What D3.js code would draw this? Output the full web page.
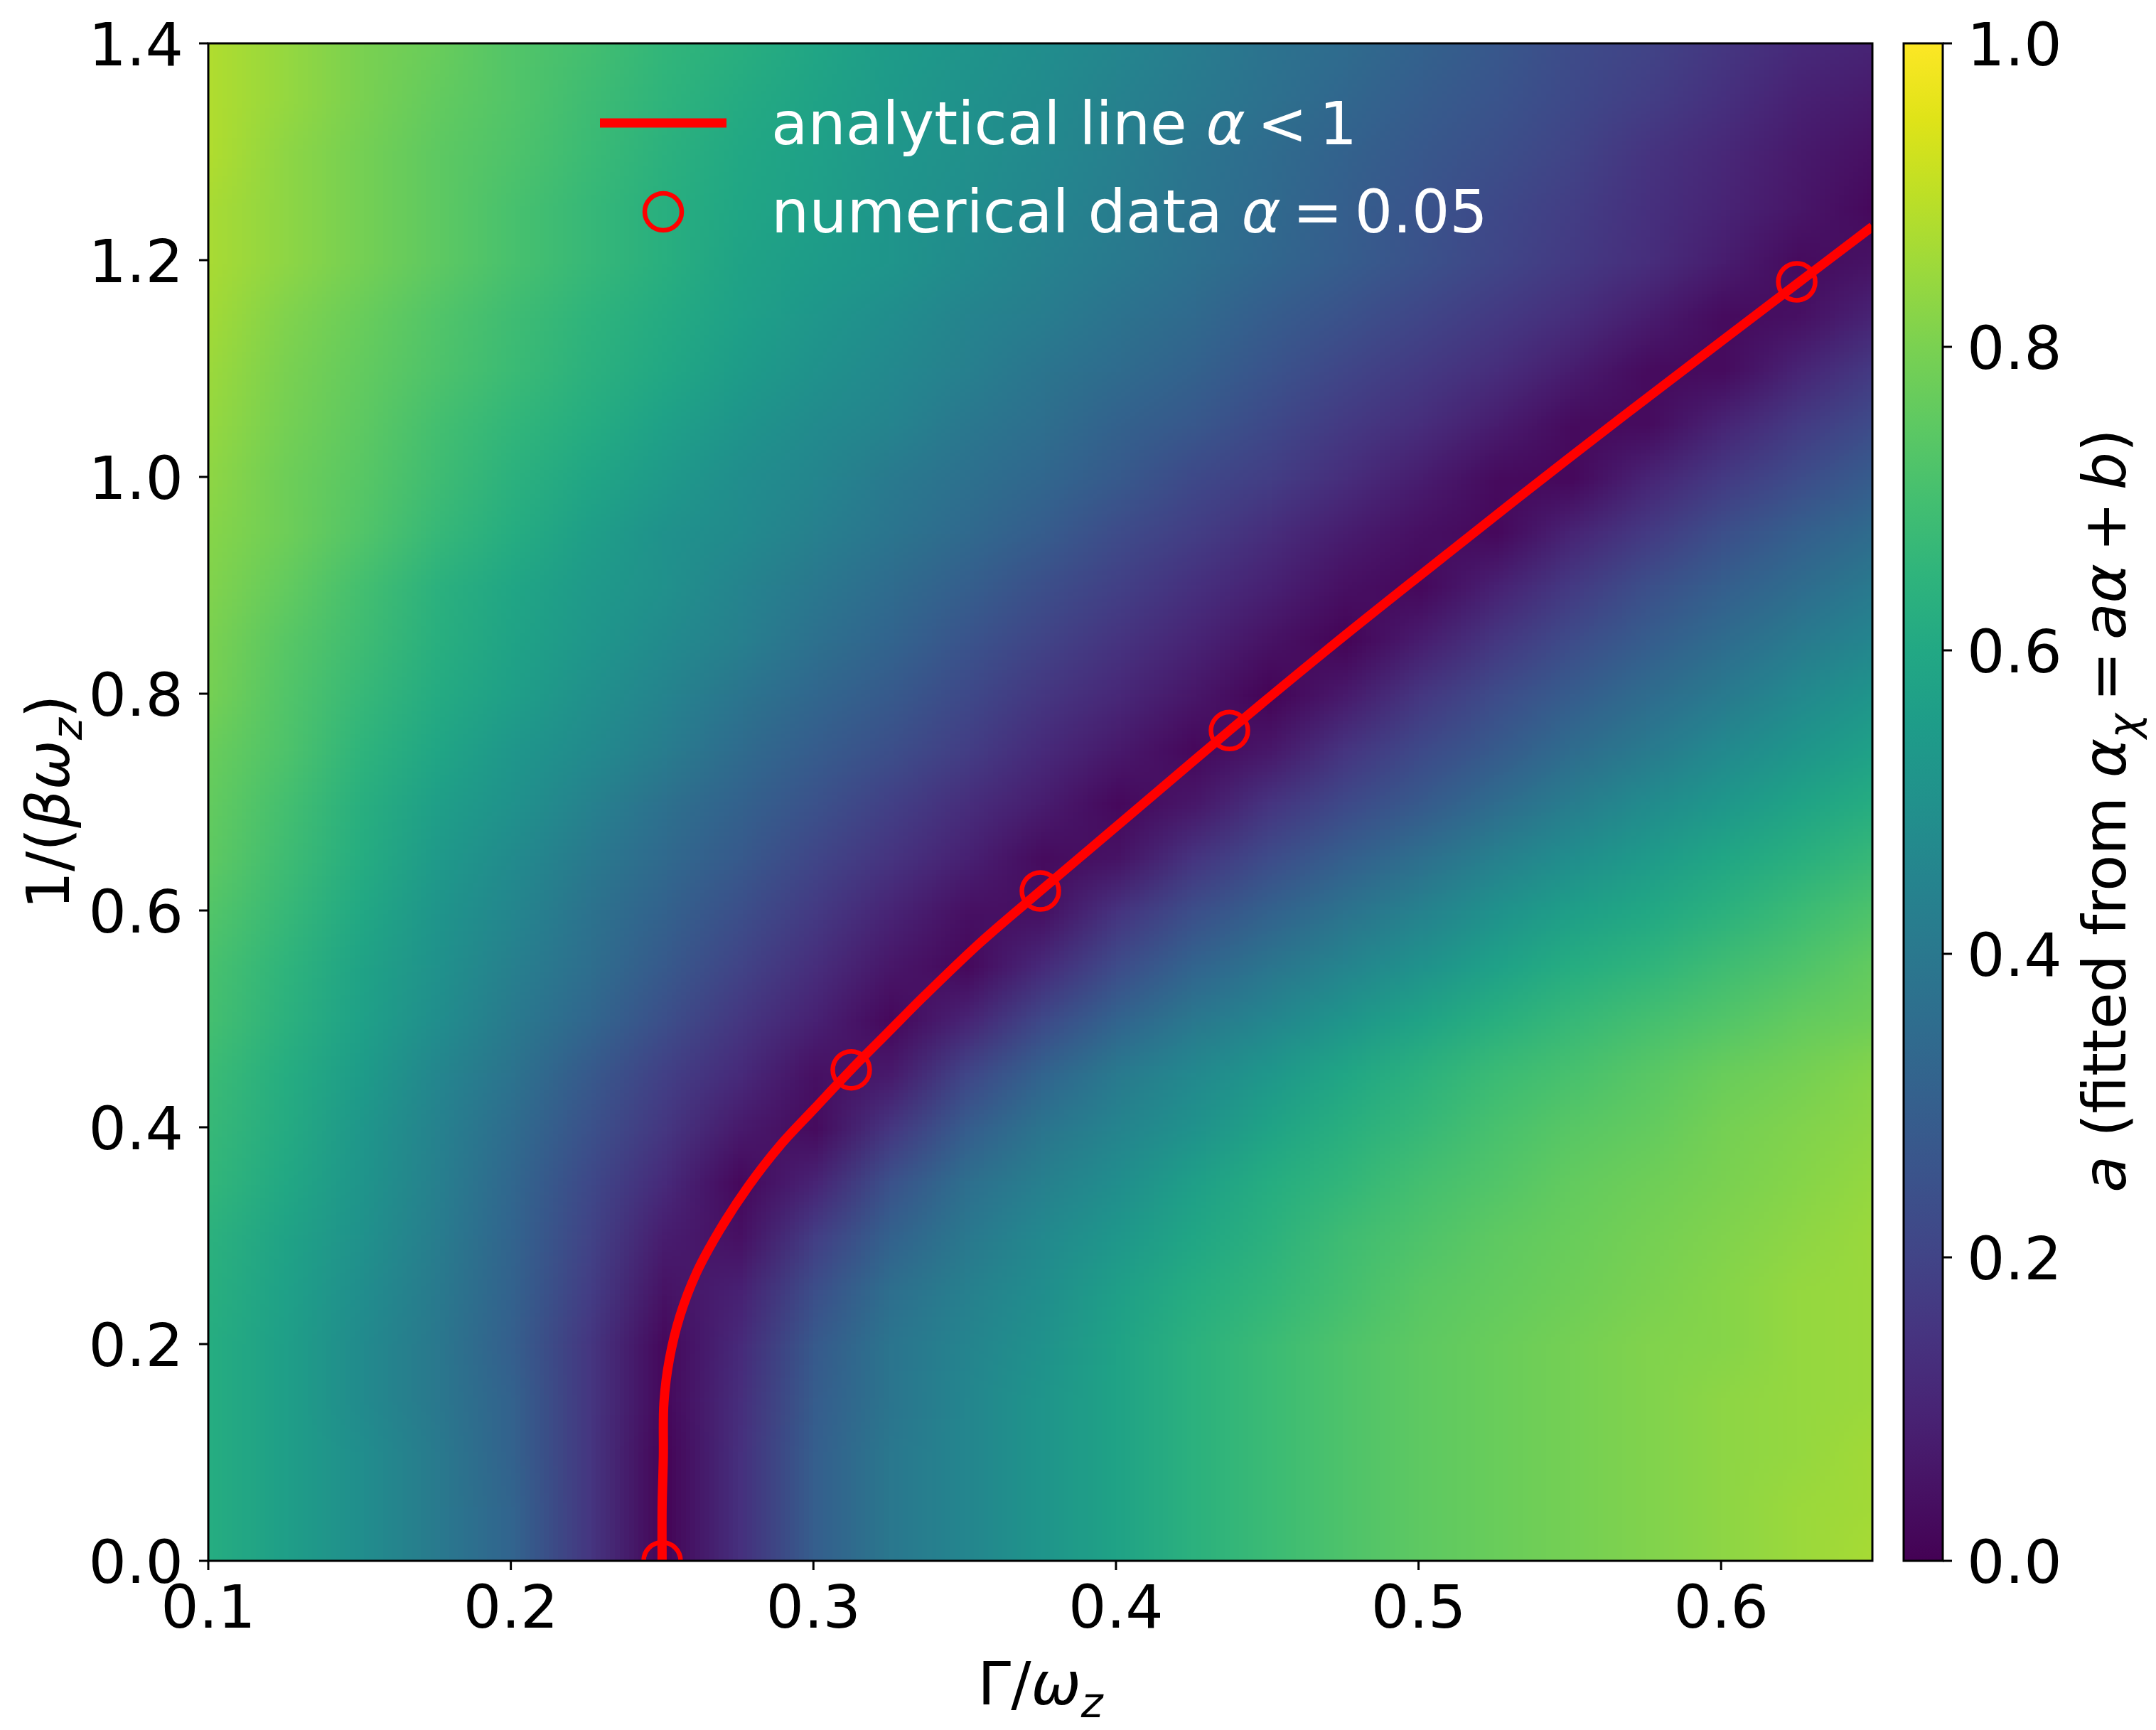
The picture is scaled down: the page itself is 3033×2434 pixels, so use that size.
<!DOCTYPE html>
<html>
<head>
<meta charset="utf-8">
<script src="https://cdn.jsdelivr.net/npm/d3@7"></script>
<style>
  body { margin: 0; background: #fff; }
  text { font-family: "DejaVu Sans", sans-serif; }
</style>
</head>
<body>
<script>
// grid of the heat map: Gamma/omega_z columns, 1/(beta omega_z) rows
var gammaGrid = [0.1, 0.125, 0.15, 0.175, 0.2, 0.225, 0.25, 0.275, 0.3, 0.325, 0.35, 0.375,
                 0.4, 0.425, 0.45, 0.475, 0.5, 0.525, 0.55, 0.575, 0.6, 0.625, 0.65];
var tempGrid = [0, 0.05, 0.1, 0.15, 0.2, 0.25, 0.3, 0.35, 0.4, 0.45, 0.5, 0.55, 0.6, 0.65, 0.7,
                0.75, 0.8, 0.85, 0.9, 0.95, 1.0, 1.05, 1.1, 1.15, 1.2, 1.25, 1.3, 1.35, 1.4];
// fitted slope a, one row per tempGrid value
var aRows = [
  [.62,.56,.49,.41,.32,.16,.01,.14,.30,.40,.46,.52,.58,.64,.68,.72,.75,.77,.79,.81,.83,.85,.87],
  [.62,.56,.49,.41,.32,.16,.01,.14,.30,.40,.46,.52,.58,.64,.68,.72,.75,.77,.79,.81,.83,.85,.86],
  [.62,.56,.49,.41,.31,.16,.01,.14,.30,.40,.46,.52,.58,.64,.68,.72,.75,.77,.79,.81,.83,.84,.86],
  [.62,.56,.48,.40,.31,.16,.02,.13,.29,.39,.46,.52,.58,.64,.68,.72,.75,.77,.79,.81,.83,.84,.85],
  [.62,.56,.48,.40,.30,.16,.02,.12,.28,.39,.45,.51,.58,.64,.68,.72,.75,.77,.79,.81,.82,.84,.85],
  [.63,.57,.49,.41,.31,.18,.05,.09,.24,.36,.43,.49,.56,.62,.66,.70,.74,.76,.78,.80,.82,.84,.85],
  [.64,.58,.51,.42,.32,.20,.08,.04,.18,.31,.40,.47,.53,.59,.64,.69,.72,.75,.77,.79,.81,.83,.85],
  [.66,.60,.52,.43,.33,.22,.12,.02,.10,.25,.36,.43,.49,.56,.62,.66,.70,.73,.76,.78,.80,.82,.84],
  [.67,.61,.53,.44,.35,.25,.16,.07,.03,.16,.29,.39,.45,.51,.58,.63,.67,.71,.74,.76,.79,.81,.83],
  [.68,.62,.55,.46,.38,.28,.19,.12,.04,.07,.21,.32,.41,.47,.53,.59,.64,.68,.71,.74,.77,.79,.82],
  [.70,.64,.57,.49,.41,.33,.24,.16,.09,.02,.10,.22,.32,.40,.46,.52,.58,.63,.67,.70,.73,.76,.78],
  [.71,.65,.58,.51,.43,.36,.28,.20,.13,.06,.02,.12,.23,.32,.39,.45,.51,.57,.62,.65,.69,.72,.76],
  [.73,.67,.60,.52,.46,.38,.31,.24,.17,.10,.04,.04,.15,.24,.31,.38,.44,.51,.56,.60,.64,.68,.72],
  [.75,.69,.62,.54,.48,.41,.34,.28,.21,.15,.09,.03,.05,.15,.23,.30,.36,.43,.49,.54,.59,.63,.67],
  [.76,.70,.63,.56,.51,.44,.37,.31,.25,.19,.13,.08,.02,.06,.15,.22,.28,.35,.42,.48,.53,.58,.62],
  [.77,.72,.65,.59,.53,.48,.42,.35,.29,.24,.18,.12,.07,.02,.06,.15,.22,.28,.35,.41,.47,.52,.57],
  [.79,.73,.67,.61,.56,.50,.45,.39,.33,.28,.22,.16,.11,.06,.01,.07,.16,.23,.29,.35,.41,.47,.52],
  [.80,.74,.69,.63,.58,.53,.48,.43,.37,.32,.26,.20,.15,.10,.05,.01,.08,.16,.23,.29,.35,.41,.46],
  [.81,.76,.70,.64,.59,.54,.50,.45,.40,.35,.30,.24,.19,.14,.09,.04,.02,.09,.17,.24,.30,.35,.41],
  [.82,.78,.73,.67,.62,.56,.51,.48,.43,.39,.34,.29,.23,.18,.13,.08,.04,.02,.10,.17,.24,.30,.35],
  [.83,.78,.74,.69,.64,.59,.54,.49,.46,.41,.37,.33,.28,.22,.18,.13,.08,.03,.02,.10,.17,.23,.29],
  [.84,.79,.75,.70,.66,.62,.57,.52,.48,.45,.40,.36,.31,.27,.22,.17,.13,.08,.03,.03,.10,.17,.23],
  [.85,.80,.76,.72,.68,.64,.60,.55,.51,.47,.43,.39,.35,.31,.26,.21,.17,.13,.08,.03,.03,.10,.17],
  [.86,.81,.77,.73,.69,.65,.61,.57,.53,.49,.45,.42,.38,.34,.29,.25,.21,.17,.13,.08,.03,.04,.10],
  [.87,.83,.79,.75,.71,.67,.63,.58,.55,.52,.48,.44,.41,.37,.33,.29,.25,.21,.17,.13,.08,.03,.05],
  [.87,.83,.79,.75,.71,.67,.63,.59,.56,.52,.49,.46,.42,.38,.34,.30,.26,.22,.18,.14,.10,.06,.02],
  [.88,.83,.79,.75,.72,.68,.64,.60,.57,.53,.50,.47,.43,.39,.35,.31,.27,.24,.20,.15,.11,.07,.04],
  [.88,.84,.80,.76,.73,.69,.65,.61,.58,.54,.51,.48,.44,.41,.37,.33,.29,.26,.22,.18,.14,.09,.07],
  [.88,.84,.80,.77,.73,.70,.66,.63,.59,.55,.52,.49,.46,.42,.38,.35,.31,.27,.23,.20,.16,.12,.10]
];
// analytical line
var lineX = [0.25, 0.25, 0.2504, 0.2506, 0.2524, 0.2559, 0.2614, 0.2692, 0.2786, 0.2889, 0.3006, 0.3124,
             0.3241, 0.3366, 0.355, 0.375, 0.405, 0.4375, 0.47, 0.5, 0.55, 0.6, 0.625, 0.65];
var lineY = [0, 0.05, 0.096, 0.146, 0.186, 0.226, 0.266, 0.306, 0.346, 0.383, 0.418, 0.453,
             0.486, 0.521, 0.570, 0.618, 0.689, 0.766, 0.841, 0.908, 1.018, 1.125, 1.178, 1.231];
// numerical data points
var dataX = [0.25, 0.3125, 0.375, 0.4375, 0.625];
var dataY = [0, 0.453, 0.618, 0.766, 1.18];

var xTicks = [0.1, 0.2, 0.3, 0.4, 0.5, 0.6];
var yTicks = [0, 0.2, 0.4, 0.6, 0.8, 1.0, 1.2, 1.4];
var cTicks = [0, 0.2, 0.4, 0.6, 0.8, 1.0];

var W = 3033, H = 2434;
var pL = 293, pR = 2634, pT = 61, pB = 2196;
var cbL = 2678, cbR = 2733;
var fs = 84;

var x = d3.scaleLinear().domain([0.1, 0.65]).range([pL, pR]);
var y = d3.scaleLinear().domain([0, 1.4]).range([pB, pT]);
var cy = d3.scaleLinear().domain([0, 1]).range([pB, pT]);
var color = d3.scaleSequential(d3.interpolateViridis).domain([0, 1]);

var svg = d3.select("body").append("svg")
  .attr("width", W)
  .attr("height", H);

var defs = svg.append("defs");
defs.append("clipPath").attr("id", "plotclip")
  .append("rect")
  .attr("x", pL).attr("y", pT)
  .attr("width", pR - pL).attr("height", pB - pT);

// heat map: one canvas pixel per grid cell, scaled onto the axes
var nx = gammaGrid.length, ny = tempGrid.length;
var cv = document.createElement("canvas");
cv.width = nx;
cv.height = ny;
var ctx = cv.getContext("2d");
aRows.forEach(function (row, j) {
  row.forEach(function (v, i) {
    ctx.fillStyle = color(v);
    ctx.fillRect(i, ny - 1 - j, 1, 1);
  });
});
var hx = (gammaGrid[1] - gammaGrid[0]) / 2, hy = (tempGrid[1] - tempGrid[0]) / 2;
var plot = svg.append("g").attr("clip-path", "url(#plotclip)");
plot.append("image")
  .attr("href", cv.toDataURL())
  .attr("x", x(gammaGrid[0] - hx))
  .attr("y", y(tempGrid[ny - 1] + hy))
  .attr("width", x(gammaGrid[nx - 1] + hx) - x(gammaGrid[0] - hx))
  .attr("height", y(tempGrid[0] - hy) - y(tempGrid[ny - 1] + hy))
  .attr("preserveAspectRatio", "none")
  .style("image-rendering", "auto");

// analytical line and data circles
var line = d3.line()
  .x(function (d, i) { return x(lineX[i]); })
  .y(function (d, i) { return y(lineY[i]); })
  .curve(d3.curveCatmullRom);
plot.append("path")
  .datum(lineX)
  .attr("d", line)
  .attr("fill", "none")
  .attr("stroke", "#ff0000")
  .attr("stroke-width", 13)
  .attr("stroke-linejoin", "round");
plot.selectAll("circle.pt")
  .data(dataX)
  .enter()
  .append("circle")
  .attr("class", "pt")
  .attr("cx", function (d) { return x(d); })
  .attr("cy", function (d, i) { return y(dataY[i]); })
  .attr("r", 26)
  .attr("fill", "none")
  .attr("stroke", "#ff0000")
  .attr("stroke-width", 6.5);

// frame
svg.append("rect")
  .attr("x", pL).attr("y", pT)
  .attr("width", pR - pL).attr("height", pB - pT)
  .attr("fill", "none").attr("stroke", "#000").attr("stroke-width", 3);

// ticks
svg.selectAll("line.xt").data(xTicks).enter().append("line")
  .attr("x1", function (d) { return x(d); }).attr("x2", function (d) { return x(d); })
  .attr("y1", pB).attr("y2", pB + 13)
  .attr("stroke", "#000").attr("stroke-width", 3);
svg.selectAll("text.xt").data(xTicks).enter().append("text")
  .attr("x", function (d) { return x(d); })
  .attr("y", 2290)
  .attr("text-anchor", "middle")
  .style("font-size", fs + "px")
  .text(function (d) { return d.toFixed(1); });

svg.selectAll("line.yt").data(yTicks).enter().append("line")
  .attr("x1", pL - 13).attr("x2", pL)
  .attr("y1", function (d) { return y(d); }).attr("y2", function (d) { return y(d); })
  .attr("stroke", "#000").attr("stroke-width", 3);
svg.selectAll("text.yt").data(yTicks).enter().append("text")
  .attr("x", 258)
  .attr("y", function (d) { return y(d); })
  .attr("dy", "0.365em")
  .attr("text-anchor", "end")
  .style("font-size", fs + "px")
  .text(function (d) { return d.toFixed(1); });

// colour bar
var grad = defs.append("linearGradient")
  .attr("id", "cbgrad")
  .attr("x1", 0).attr("y1", 1).attr("x2", 0).attr("y2", 0);
grad.selectAll("stop").data(d3.range(0, 1.0001, 0.05)).enter().append("stop")
  .attr("offset", function (d) { return d; })
  .attr("stop-color", function (d) { return color(d); });
svg.append("rect")
  .attr("x", cbL).attr("y", pT)
  .attr("width", cbR - cbL).attr("height", pB - pT)
  .attr("fill", "url(#cbgrad)")
  .attr("stroke", "#000").attr("stroke-width", 3);
svg.selectAll("line.ct").data(cTicks).enter().append("line")
  .attr("x1", cbR).attr("x2", cbR + 13)
  .attr("y1", function (d) { return cy(d); }).attr("y2", function (d) { return cy(d); })
  .attr("stroke", "#000").attr("stroke-width", 3);
svg.selectAll("text.ct").data(cTicks).enter().append("text")
  .attr("x", 2767)
  .attr("y", function (d) { return cy(d); })
  .attr("dy", "0.365em")
  .style("font-size", fs + "px")
  .text(function (d) { return d.toFixed(1); });

// text with italic parts and subscripts
function richText(sel, parts) {
  var shift = 0;
  parts.forEach(function (p) {
    var t = sel.append("tspan").text(p.t);
    if (p.i) t.style("font-style", "italic");
    var want = p.sub ? 0.22 * fs : 0;
    if (want !== shift) { t.attr("dy", want - shift); shift = want; }
    if (p.sub) t.style("font-size", (fs * 0.7) + "px");
  });
}

richText(svg.append("text")
  .attr("x", (pL + pR) / 2).attr("y", 2398)
  .attr("text-anchor", "middle")
  .style("font-size", fs + "px"),
  [{ t: "Γ/" }, { t: "ω", i: 1 }, { t: "z", i: 1, sub: 1 }]);

richText(svg.append("text")
  .attr("transform", "translate(97," + ((pT + pB) / 2) + ") rotate(-90)")
  .attr("text-anchor", "middle")
  .style("font-size", fs + "px"),
  [{ t: "1/(" }, { t: "βω", i: 1 }, { t: "z", i: 1, sub: 1 }, { t: ")" }]);

richText(svg.append("text")
  .attr("transform", "translate(2990," + ((pT + pB) / 2 + 12) + ") rotate(-90)")
  .attr("text-anchor", "middle")
  .style("font-size", fs + "px"),
  [{ t: "a", i: 1 }, { t: " (fitted from " }, { t: "α", i: 1 }, { t: "χ", i: 1, sub: 1 },
   { t: "\u2009=\u2009" }, { t: "aα", i: 1 }, { t: "\u2009+\u2009" }, { t: "b", i: 1 }, { t: ")" }]);

// legend
var leg = svg.append("g");
leg.append("line")
  .attr("x1", 844).attr("x2", 1022).attr("y1", 173).attr("y2", 173)
  .attr("stroke", "#ff0000").attr("stroke-width", 13);
leg.append("circle")
  .attr("cx", 933).attr("cy", 298).attr("r", 26)
  .attr("fill", "none").attr("stroke", "#ff0000").attr("stroke-width", 6.5);
richText(leg.append("text").attr("x", 1085).attr("y", 203)
  .attr("fill", "#fff").style("font-size", fs + "px"),
  [{ t: "analytical line " }, { t: "α", i: 1 }, { t: "\u2009<\u20091" }]);
richText(leg.append("text").attr("x", 1085).attr("y", 327)
  .attr("fill", "#fff").style("font-size", fs + "px"),
  [{ t: "numerical data " }, { t: "α", i: 1 }, { t: "\u2009=\u20090.05" }]);
</script>
</body>
</html>
